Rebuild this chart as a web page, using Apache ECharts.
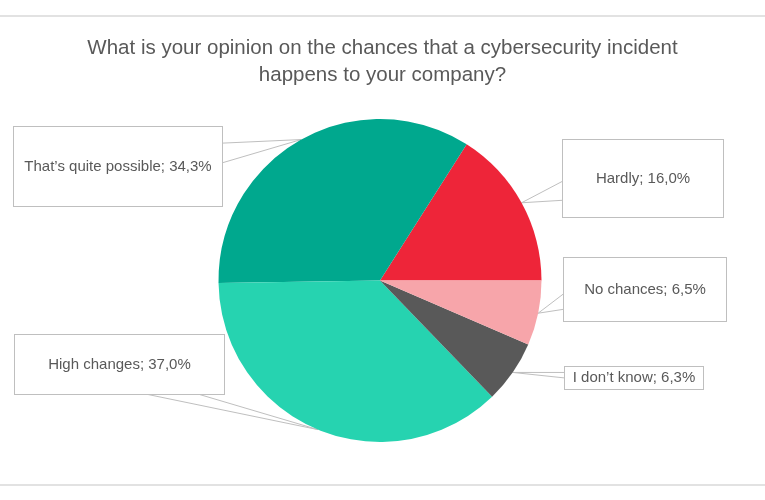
<!DOCTYPE html>
<html>
<head>
<meta charset="utf-8">
<script src="https://cdn.jsdelivr.net/npm/echarts@6/dist/echarts.min.js"></script>
<style>
  html, body { margin: 0; padding: 0; background: #fff; }
  #chart { width: 765px; height: 500px; }
</style>
</head>
<body>
<div id="chart"></div>
<script>
// answers, in drawing order (counter-clockwise from 3 o'clock)
var answers = ['Hardly', 'That\u2019s quite possible', 'High changes', 'I don\u2019t know', 'No chances'];
var shares = [16.0, 34.3, 37.0, 6.3, 6.5];
var sliceColors = ['#ee2539', '#00a88e', '#26d3b0', '#595959', '#f7a5aa'];

// callout boxes (centre x/y, width, height in px), same order as answers
var calloutBoxes = [
  { cx: 643, cy: 178.5, w: 160, h: 77 },
  { cx: 118, cy: 166.5, w: 208, h: 79 },
  { cx: 119.5, cy: 364.5, w: 209, h: 59 },
  { cx: 634, cy: 378, w: 138, h: 22 },
  { cx: 645, cy: 289.5, w: 162, h: 63 }
];

var font = '"Liberation Sans", Arial, sans-serif';
var LINE_H = 17;

function clamp(v, lo, hi) {
  return Math.max(lo, Math.min(hi, v));
}

// wedge-shaped callout: two lines from the box side to the slice
function calloutLayout(params) {
  var b = calloutBoxes[params.dataIndex];
  var p = params.labelLinePoints[0];
  var x0 = b.cx - b.w / 2, y0 = b.cy - b.h / 2;
  var nx = (p[0] - b.cx) / (b.w / 2);
  var ny = (p[1] - b.cy) / (b.h / 2);
  var a, c;
  if (Math.abs(nx) >= Math.abs(ny)) {
    var sx = nx < 0 ? x0 : x0 + b.w;
    var my = b.cy + 0.5 * clamp(p[1] - b.cy, -b.h / 2, b.h / 2);
    var hy = b.h * 0.125;
    a = [sx, my - hy];
    c = [sx, my + hy];
  } else {
    var sy = ny < 0 ? y0 : y0 + b.h;
    var mx = b.cx + 0.5 * clamp(p[0] - b.cx, -b.w / 2, b.w / 2);
    var hx = b.w * 0.125;
    a = [mx - hx, sy];
    c = [mx + hx, sy];
  }
  return {
    x: b.cx,
    y: b.cy,
    align: 'center',
    verticalAlign: 'middle',
    labelLinePoints: [a, p, c]
  };
}

var pieData = answers.map(function (name, i) {
  var b = calloutBoxes[i];
  return {
    name: name,
    value: shares[i],
    itemStyle: { color: sliceColors[i] },
    label: {
      width: b.w,
      padding: [(b.h - LINE_H) / 2, 0]
    }
  };
});

var chart = echarts.init(document.getElementById('chart'));

chart.setOption({
  backgroundColor: '#fff',
  animation: false,
  title: {
    text: 'What is your opinion on the chances that a cybersecurity incident\nhappens to your company?',
    left: 'center',
    top: 35,
    padding: 0,
    textStyle: {
      color: '#595959',
      fontFamily: font,
      fontSize: 20.5,
      fontWeight: 'normal',
      lineHeight: 27
    }
  },
  graphic: [
    {
      type: 'line',
      shape: { x1: 0, y1: 16, x2: 765, y2: 16 },
      style: { stroke: '#d9d9d9', lineWidth: 1.5 }
    },
    {
      type: 'line',
      shape: { x1: 0, y1: 485, x2: 765, y2: 485 },
      style: { stroke: '#d9d9d9', lineWidth: 1.5 }
    }
  ],
  series: [
    {
      type: 'pie',
      center: [380, 280.5],
      radius: 161.5,
      startAngle: 0,
      clockwise: false,
      avoidLabelOverlap: false,
      itemStyle: { borderWidth: 0 },
      emphasis: { disabled: true },
      label: {
        show: true,
        position: 'outer',
        formatter: function (p) {
          return p.name + '; ' + p.value.toFixed(1).replace('.', ',') + '%';
        },
        color: '#595959',
        fontFamily: font,
        fontSize: 15,
        lineHeight: LINE_H,
        align: 'center',
        backgroundColor: '#fff',
        borderColor: '#bfbfbf',
        borderWidth: 1
      },
      labelLine: {
        show: true,
        smooth: false,
        lineStyle: { color: '#bfbfbf', width: 1 }
      },
      labelLayout: calloutLayout,
      data: pieData
    }
  ]
});
</script>
</body>
</html>
